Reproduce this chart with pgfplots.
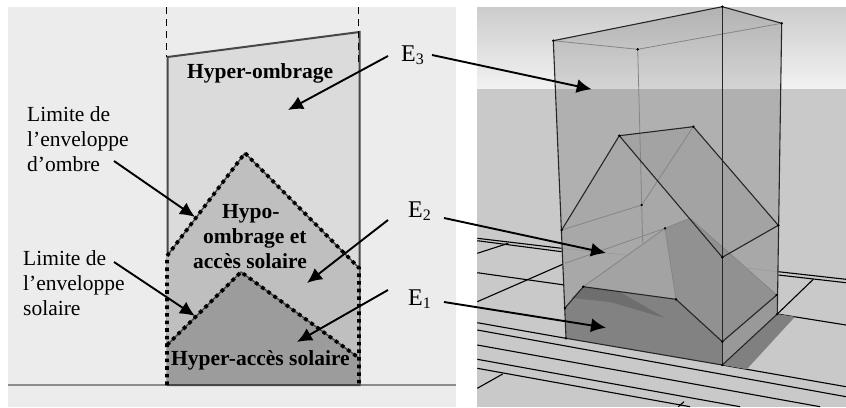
\documentclass[border=0pt]{standalone}
\usepackage{pgfplots}
\pgfplotsset{compat=1.18}
\usepackage{fontspec}
\setmainfont{Liberation Serif}
\usetikzlibrary{arrows.meta}
\newcommand{\shape}[2]{\addplot[#1] coordinates {#2} --cycle;}
\newcommand{\seg}[2]{\addplot[#1] coordinates {#2};}
\newcommand{\txt}[3]{\node[anchor=base west,inner sep=0pt,font=\fontsize{21.5}{25}\selectfont#1] at (axis cs:#2) {#3};}
\newcommand{\lab}[3]{\node[anchor=base west,inner sep=0pt,font=\fontsize{24}{25}\selectfont] at (axis cs:#1) {E\raisebox{-3pt}{\fontsize{16}{16}\selectfont #2}};}
\tikzset{
  arr/.style={black,line width=1.9pt,-{Latex[length=15pt,width=14pt]}},
  wall/.style={draw=black!72,line width=2pt},
  dots/.style={black,line width=3.6pt,dash pattern=on 3.6pt off 4pt},
  thin/.style={black!48,line width=0.8pt},
  edge/.style={black!85,line width=1.1pt},
  gr/.style={black,line width=1.1pt},
}
\begin{document}
\begin{tikzpicture}
\begin{axis}[
    scale only axis,width=846pt,height=407pt,
    xmin=0,xmax=846,ymin=0,ymax=407,y dir=reverse,
    hide axis,
]
% left panel
\shape{fill=white,draw=none}{(0,0)(846,0)(846,407)(0,407)}
\shape{fill=black!7.5,draw=none}{(8,7)(456,7)(456,407)(8,407)}
\seg{black!45,line width=1.5pt}{(8,385)(456,385)}
\shape{fill=black!14,wall}{(167.5,57)(359.5,32)(359.5,385)(167.5,385)}
\shape{fill=black!25,draw=none}{(167,256)(245,153)(359,268)(359,385)(167,385)}
\shape{fill=black!39,draw=none}{(167,345)(241,272)(359,358)(359,385)(167,385)}
\seg{wall}{(167,385)(359.5,385)}
\seg{black,line width=1.8pt,dash pattern=on 7pt off 5pt}{(166.5,7)(166.5,57)}
\seg{black,line width=1.8pt,dash pattern=on 7pt off 5pt}{(358.5,7)(358.5,65)}
\seg{wall,line width=1.4pt}{(167,256)(245,153)(359,268)}
\seg{wall,line width=1.4pt}{(167,345)(241,272)(359,358)}
\seg{dots}{(167,385)(167,256)(245,153)(359,268)(359,385)}
\seg{dots}{(167,345)(241,272)(359,358)}
\txt{\bfseries}{187,78}{Hyper-ombrage}
\txt{\bfseries}{222,218}{Hypo-}
\txt{\bfseries}{203,243}{ombrage et}
\txt{\bfseries}{193,268}{accès solaire}
\txt{\bfseries}{171,365}{Hyper-accès solaire}
\txt{}{27,121}{Limite de}
\txt{}{27,146}{l’enveloppe}
\txt{}{27,171}{d’ombre}
\txt{}{23,265}{Limite de}
\txt{}{23,290}{l’enveloppe}
\txt{}{23,315}{solaire}
\seg{arr}{(114,161)(195,217)}
\seg{arr}{(114,262)(195,316)}
\seg{arr}{(388,56)(288,110)}
\seg{arr}{(388,220)(307,283)}
\seg{arr}{(388,290)(297,342)}
\lab{401,61}{3}{}
\lab{408,217}{2}{}
\lab{408,305}{1}{}
% right panel
\addplot[draw=none,top color=black!20,bottom color=black!5] coordinates {(477,7)(846,7)(846,89)(477,89)} --cycle;
\shape{fill=black!21,draw=none}{(477,89)(846,89)(846,407)(477,407)}
\seg{gr}{(477.3,238.3)(561.7,248.3)}
\seg{gr}{(477.3,240.7)(561.7,251.7)}
\seg{gr}{(477.3,253.3)(508.3,243.3)}
\seg{gr}{(477.3,272.7)(576.7,286.7)}
\seg{gr}{(477.3,301.7)(565,263.3)}
\seg{gr}{(477.3,322.7)(566,338.3)}
\seg{gr}{(722.3,365)(846,386.7)}
\seg{gr}{(477.3,330)(846,396.7)}
\seg{gr}{(477.3,345)(820,406.7)}
\seg{gr}{(477.3,359.3)(740,406.7)}
\seg{gr}{(477.3,368.3)(690,406.7)}
\seg{gr}{(477.3,388.3)(502.7,374)}
\seg{gr}{(678.3,406.7)(684,401.7)}
\seg{gr}{(778.3,271.7)(846,279.3)}
\seg{gr}{(778.3,275)(846,282.7)}
\seg{gr}{(813.3,279.3)(777.3,314)}
\seg{gr}{(777.3,314)(846,325)}
\shape{fill=black!50,draw=none}{(722.3,365)(746.7,369.3)(795,316.7)(777.3,314)}
% translucent shell
\shape{fill=black,fill opacity=0.12,draw=none}{(553.3,40.7)(722.3,6.7)(781.7,23.3)(777.3,314)(722.3,365)(566,338.3)}
% house volumes
\shape{fill=black!34,draw=none}{(561.7,230)(619.3,135.7)(693.3,126.7)(778.3,225.3)(777.3,314)(722.3,365)(566,338.3)}
\shape{fill=black!36,draw=none}{(619.3,135.7)(693.3,126.7)(778.3,225.3)(722.3,257.3)}
\shape{fill=black!49,draw=none}{(565,308)(583.3,286.7)(676,299.3)(722.3,341.7)(722.3,365)(566,338.3)}
\shape{fill=black!40,draw=none}{(722.3,341.7)(776.7,295)(777.3,314)(722.3,365)}
\shape{fill=black!43,draw=none}{(665,228.3)(690,218.3)(776.7,295)(722.3,341.7)(676,299.3)}
\shape{fill=black!36,draw=none}{(583.3,286.7)(665,228.3)(676,299.3)}
\shape{fill=black!57,draw=none}{(583.3,286.7)(620,292)(665,318)(610,302)(572,298)}
% hidden edges
\seg{thin}{(553.3,40.7)(637.7,49.3)(781.7,23.3)}
\seg{thin}{(637.7,49.3)(641.7,205)(642.7,243)}
\seg{thin}{(561.7,230)(641.7,205)(693.3,126.7)}
\seg{thin}{(565,263.3)(665,228.3)}
\seg{thin}{(690,218.3)(776.7,295)}
\seg{thin}{(583.3,286.7)(665,228.3)(690,218.3)}
\seg{thin}{(665,228.3)(676,299.3)}
\seg{thin}{(722.3,341.7)(776.7,295)}
\seg{black!40,line width=0.6pt}{(561.7,248.3)(626,255)}
\seg{black!40,line width=0.6pt}{(746,268)(778.3,271.7)}
% visible edges
\seg{edge}{(553.3,40.7)(722.3,6.7)(781.7,23.3)(777.3,314)(722.3,365)(566,338.3)(553.3,40.7)}
\seg{edge}{(722.3,6.7)(722.3,365)}
\seg{edge}{(561.7,230)(619.3,135.7)(693.3,126.7)(778.3,225.3)(722.3,257.3)(619.3,135.7)}
\seg{edge}{(565,308)(583.3,286.7)(676,299.3)(722.3,341.7)(776.7,295)}
\addplot[only marks,mark=*,mark size=1pt,black] coordinates {
(553.3,40.7)(637.7,49.3)(781.7,23.3)(722.3,6.7)(561.7,230)(619.3,135.7)(693.3,126.7)
(722.3,257.3)(778.3,225.3)(641.7,205)(565,308)(583.3,286.7)(676,299.3)(722.3,341.7)
(776.7,295)(777.3,314)(722.3,365)(566,338.3)(665,228.3)};
\seg{arr}{(432,55)(591.7,89.3)}
\seg{arr}{(444,218)(606,253)}
\seg{arr}{(444,302)(606,327.7)}
\end{axis}
\end{tikzpicture}
\end{document}
